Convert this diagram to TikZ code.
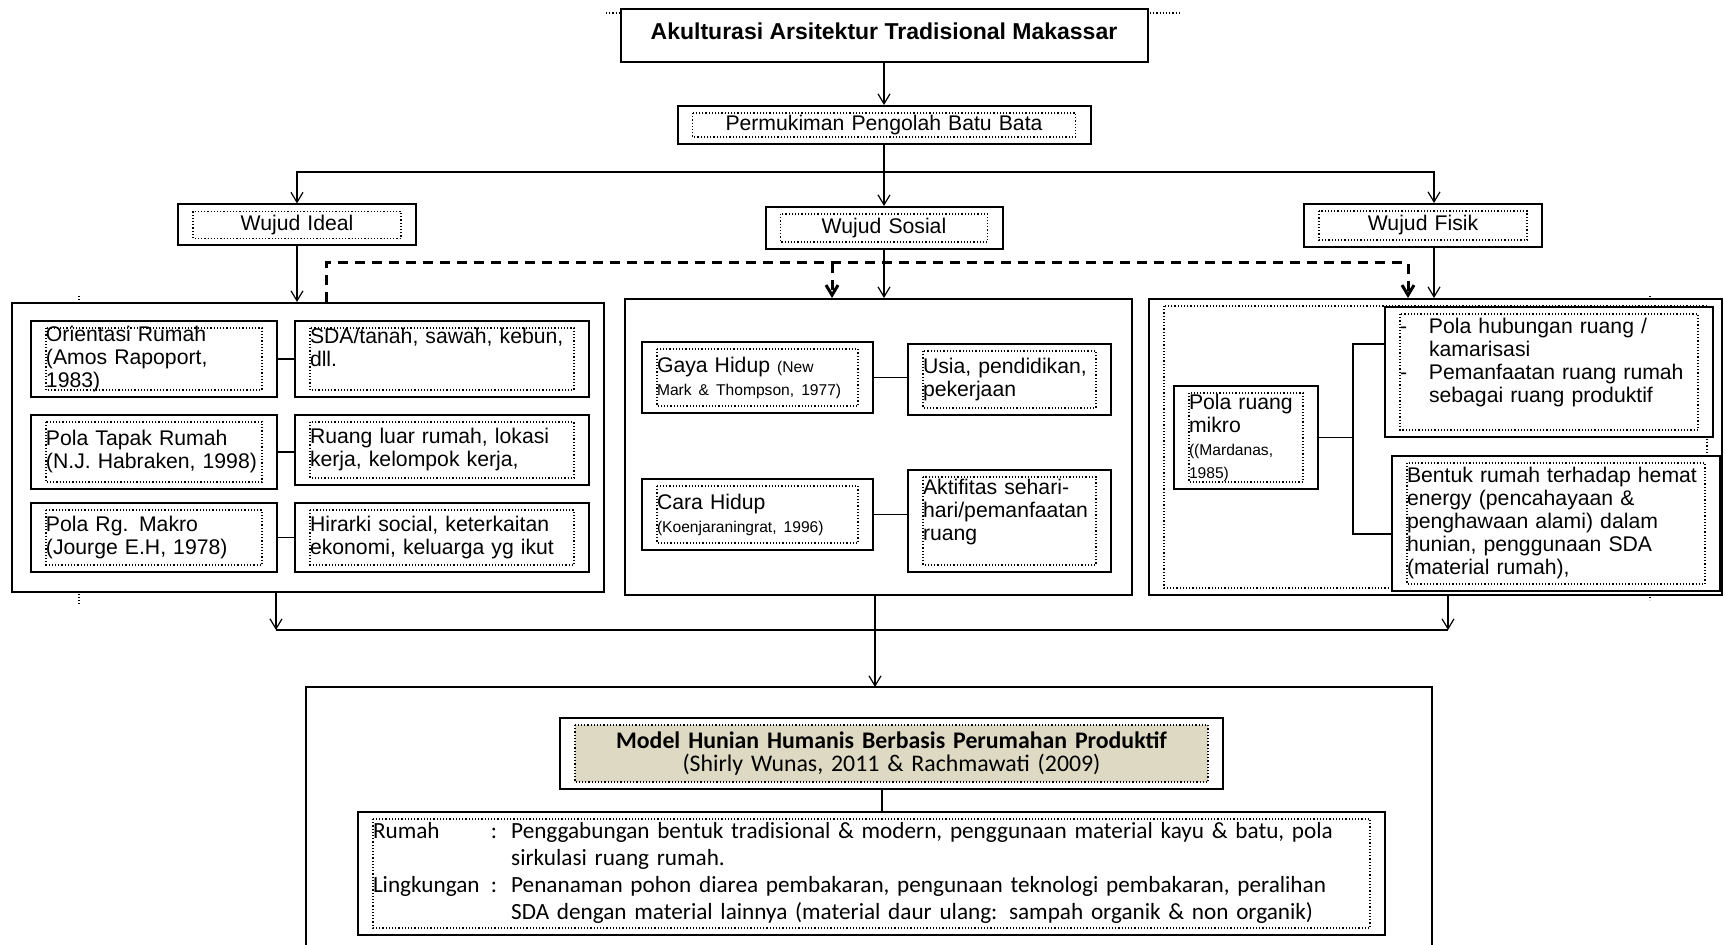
\documentclass[tikz,border=0pt]{standalone}
\usepackage{fontspec}
\setmainfont{Liberation Sans}
\newfontfamily\calibri{Carlito}
\usetikzlibrary{arrows.meta}
\definecolor{isi}{RGB}{221,217,195}
\newcommand{\kecil}[1]{{\fontsize{7.8}{9}\selectfont #1}}

\begin{document}
\begin{tikzpicture}[x=0.5pt,y=-0.5pt,
   kotak/.style={draw,line width=1pt,fill=white,inner sep=0pt,
      font=\fontsize{10.6}{11.5}\selectfont},
   kotakd/.style={kotak,inner xsep=7.5pt,align=left,
      path picture={\draw[densely dotted,line width=0.6pt,fill=#1]
         ([xshift=7.5pt,yshift=-3.5pt]path picture bounding box.north west) rectangle
         ([xshift=-7.5pt,yshift=3.5pt]path picture bounding box.south east);}},
   kotakd/.default=white,
   ukuran/.style 2 args={minimum width=#1,minimum height=#2,text width=#1-15pt},
   garis/.style={line width=0.6pt},
   panah/.style={garis,-{Straight Barb[length=5pt,width=6pt]}},
   putus/.style={line width=1.5pt,dash pattern=on 5pt off 3.5pt}]
\useasboundingbox (0,0) rectangle (1725,945);

\draw[garis,densely dotted] (606,13) -- (1180,13);
\draw[garis,densely dotted] (79,296) -- (79,604);
\draw[garis,densely dotted] (1650,296) -- (1650,600);

\node[kotak,minimum width=263.5pt,minimum height=26.5pt,text depth=4.5pt,
   font=\bfseries\fontsize{11.5}{13}\selectfont] (judul) at (884,35.5)
   {Akulturasi Arsitektur Tradisional Makassar};
\node[kotakd,ukuran={206.5pt}{19pt},align=center] (perm) at (884,125)
   {Permukiman Pengolah Batu Bata};

\node[kotakd,ukuran={119pt}{20.5pt},align=center] (ideal) at (297,225) {Wujud Ideal};
\node[kotakd,ukuran={118.5pt}{21pt},align=center] (sosial) at (884,228) {Wujud Sosial};
\node[kotakd,ukuran={119pt}{21.5pt},align=center] (fisik) at (1423,225.5) {Wujud Fisik};

\node[kotak,minimum width=296pt,minimum height=144.5pt] (pideal) at (308,447.5) {};
\node[kotak,minimum width=253.5pt,minimum height=148pt] (psosial) at (878.5,447) {};
\node[kotakd,ukuran={286.5pt}{148pt}] (pfisik) at (1435.5,447) {};

\node[kotakd,ukuran={123pt}{38pt}] (orientasi) at (154,359)
   {Orientasi Rumah\\(Amos  Rapoport,\\1983)};
\node[kotakd,ukuran={123pt}{37pt}] (tapak) at (154,452)
   {Pola Tapak Rumah\\(N.J. Habraken, 1998)};
\node[kotakd,ukuran={123pt}{34.5pt}] (makro) at (154,537.5)
   {Pola Rg. Makro\\(Jourge E.H, 1978)};
\node[kotakd,ukuran={147pt}{38pt}] (sda) at (442,359)
   {SDA/tanah, sawah, kebun,\\dll.\\ \mbox{}};
\node[kotakd,ukuran={147pt}{35pt}] (luar) at (442,450)
   {Ruang luar rumah,  lokasi\\kerja, kelompok kerja,};
\node[kotakd,ukuran={147pt}{34.5pt}] (hirarki) at (442,537.5)
   {Hirarki social, keterkaitan\\ekonomi, keluarga yg ikut};

\node[kotakd,ukuran={115.5pt}{35.5pt}] (gaya) at (757.5,377.5)
   {Gaya Hidup \kecil{(New}\\\kecil{Mark \& Thompson,  1977)}};
\node[kotakd,ukuran={101.5pt}{35.5pt}] (usia) at (1009.5,379.5)
   {Usia, pendidikan,\\pekerjaan};
\node[kotakd,ukuran={115.5pt}{35.5pt}] (cara) at (757.5,514.5)
   {Cara Hidup\\\kecil{(Koenjaraningrat,  1996)}};
\node[kotakd,ukuran={101.5pt}{51pt}] (aktifitas) at (1009.5,521)
   {Aktifitas sehari-\\hari/pemanfaatan\\ruang\\ \mbox{}};

\node[kotakd,ukuran={72pt}{51.5pt}] (mikro) at (1246,437.5)
   {Pola ruang\\mikro\\\kecil{((Mardanas,}\\\kecil{1985)}};
\node[kotakd,ukuran={164pt}{65pt}] (hubungan) at (1549,372)
   {\makebox[14.5pt][l]{-}Pola hubungan  ruang  /\\\hspace*{14.5pt}kamarisasi\\
    \makebox[14.5pt][l]{-}Pemanfaatan  ruang rumah\\\hspace*{14.5pt}sebagai  ruang  produktif\\ \mbox{}};
\node[kotakd,ukuran={164pt}{67.5pt}] (bentuk) at (1556,523.5)
   {Bentuk rumah terhadap hemat\\energy (pencahayaan \&\\penghawaan alami) dalam\\hunian, penggunaan SDA\\(material rumah),};

\draw[line width=1pt] (306,945) |- (1432,687) -- (1432,945);
\node[kotakd=isi,ukuran={331.5pt}{35.5pt},align=center,
   font=\calibri\fontsize{11.9}{11.5}\selectfont] (model) at (891.5,753.5)
   {\textbf{Model Hunian Humanis Berbasis Perumahan Produktif}\\(Shirly Wunas, 2011 \& Rachmawati (2009)};
\node[kotakd,ukuran={513.5pt}{61.5pt},font=\calibri\fontsize{11.6}{13.5}\selectfont] (ket) at (871.5,873.5)
   {\begin{tabular}{@{}p{59pt}@{}l@{\hspace{7pt}}l@{}}
    Rumah & : & Penggabungan  bentuk tradisional \& modern, penggunaan material kayu \& batu,  pola\\
          &   & sirkulasi ruang rumah.\\
    Lingkungan & : & Penanaman pohon diarea pembakaran,  pengunaan teknologi pembakaran, peralihan\\
          &   & SDA dengan material lainnya (material daur ulang: sampah organik \& non organik)
    \end{tabular}};

\coordinate (cabang) at (884,172);
\coordinate (d1) at (326,263);
\coordinate (d2) at (1408,263);
\coordinate (d3) at (832,263);
\coordinate (kiri) at (276,630);
\coordinate (kanan) at (1448,630);
\coordinate (hunian) at (875,687);
\coordinate (simpul) at (1353,437.5);

\draw[panah] (judul) -- (perm);
\draw[panah] (perm) -- (sosial);
\draw[panah] (cabang) -| (ideal.north);
\draw[panah] (cabang) -| ([xshift=5.5pt]fisik.north);
\draw[panah] (ideal) -- (ideal |- pideal.north);
\draw[panah] (sosial) -- (sosial |- psosial.north);
\draw[panah] ([xshift=5.5pt]fisik.south) -- ([xshift=5.5pt]fisik.south |- pfisik.north);
\draw[panah,putus] (pideal.north -| d1) -- (d1) -- (d2) -- (d2 |- pfisik.north);
\draw[panah,putus] (d3) -- (d3 |- psosial.north);

\draw[garis] (orientasi.east) -- (orientasi.east -| sda.west);
\draw[garis] (tapak.east) -- (tapak.east -| luar.west);
\draw[garis] (makro.east) -- (makro.east -| hirarki.west);
\draw[garis] (gaya.east) -- (gaya.east -| usia.west);
\draw[garis] (cara.east) -- (cara.east -| aktifitas.west);
\draw[garis] (mikro.east) -- (simpul);
\draw[garis] (hubungan.west |- 0,344) -| (simpul) |- (bentuk.west |- 0,534);

\draw[panah] (pideal.south -| kiri) -- (kiri);
\draw[panah] (pfisik.south -| kanan) -- (kanan);
\draw[garis] (kiri) -- (kanan);
\draw[panah] (psosial.south -| hunian) -- (hunian);
\draw[garis] ([xshift=-4.75pt]model.south) -- ([xshift=-4.75pt]model.south |- ket.north);
\end{tikzpicture}
\end{document}
